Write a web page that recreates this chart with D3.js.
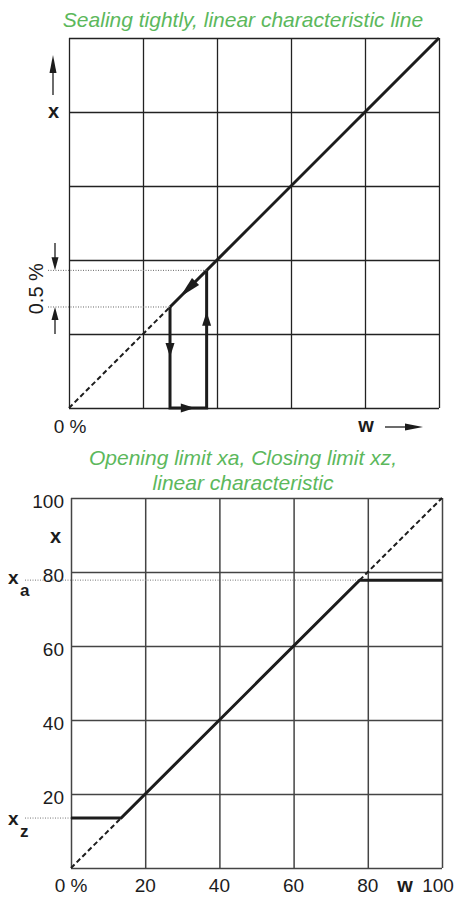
<!DOCTYPE html>
<html><head><meta charset="utf-8">
<script src="https://cdn.jsdelivr.net/npm/d3@7"></script>
<style>
html,body{margin:0;padding:0;background:#fff;}
svg{display:block;font-family:"Liberation Sans",Arial,Helvetica,sans-serif;}
</style></head>
<body>
<svg id="chart" width="458" height="897"></svg>
<script>
// ---------- data ----------
const gridTicks = [0, 20, 40, 60, 80, 100];
const topTitle = "Sealing tightly, linear characteristic line";
const bottomTitle = ["Opening limit xa, Closing limit xz,", "linear characteristic"];
// top chart: hysteresis (tight-closing) characteristic
const topLow = 27.3;   // point where line leaves diagonal downward
const topHigh = 37.2;  // point where line rejoins diagonal
const topDashed = [[0, 0], [topLow, topLow]];
const topSolid = [[topLow, topLow], [100, 100]];
const topLoop = [[topLow, topLow], [topLow, 0], [topHigh, 0], [topHigh, topHigh]];
const topLoopArrows = [ // tip positions [w, x] and direction angle (deg, screen)
  {p: [30, 30], ang: 135},
  {p: [topLow, 13.8], ang: 90},
  {p: [34, 0], ang: 0},
  {p: [topHigh, 26], ang: -90}
];
const bottomTickLabels = ["0 %", "20", "40", "60", "80", "100"];
const yTickLabels = ["20", "40", "60", "80", "100"];
const yTickValues = [20, 40, 60, 80, 100];
// bottom chart: opening / closing limit
const xz = 13.5, xa = 77.8;
const bottomSolid = [[0, xz], [xz, xz], [xa, xa], [100, xa]];
const bottomDashed = [[[0, 0], [xz, xz]], [[xa, xa], [100, 100]]];

// ---------- setup ----------
const svg = d3.select("#chart");
const green = "#5cb85c";
const ink = "#1c1c1c";

const x1 = d3.scaleLinear([0, 100], [69, 439]);
const y1 = d3.scaleLinear([0, 100], [408, 38]);
const x2 = d3.scaleLinear([0, 100], [71, 442]);
const y2 = d3.scaleLinear([0, 100], [868, 498]);

function arrowHead(g, px, py, angDeg, len, hw, color) {
  const a = angDeg * Math.PI / 180;
  const dx = Math.cos(a), dy = Math.sin(a);
  const bx = px - dx * len, by = py - dy * len;
  const nx = -dy, ny = dx;
  g.append("path")
    .attr("d", `M${px},${py}L${bx + nx * hw},${by + ny * hw}L${bx - nx * hw},${by - ny * hw}Z`)
    .attr("fill", color || ink);
}

function grid(g, xs, ys, color, w) {
  const gx = g.append("g").attr("transform", `translate(0,${ys(0)})`)
    .call(d3.axisBottom(xs).tickValues(gridTicks).tickSize(ys(100) - ys(0)).tickFormat(""));
  const gy = g.append("g").attr("transform", `translate(${xs(0)},0)`)
    .call(d3.axisLeft(ys).tickValues(gridTicks).tickSize(xs(0) - xs(100)).tickFormat(""));
  [gx, gy].forEach(a => {
    a.select(".domain").remove();
    a.selectAll("line").attr("stroke", color).attr("stroke-width", w);
  });
}

// ---------- top chart ----------
svg.append("text").attr("x", 243).attr("y", 27).attr("text-anchor", "middle")
  .attr("font-size", 21).attr("font-style", "italic").attr("fill", green).text(topTitle);

const gt = svg.append("g");
grid(gt, x1, y1, "#222", 1.3);

const line1 = d3.line().x(d => x1(d[0])).y(d => y1(d[1]));
gt.append("path").attr("d", line1(topDashed)).attr("fill", "none")
  .attr("stroke", ink).attr("stroke-width", 2).attr("stroke-dasharray", "5,3");
gt.append("path").attr("d", line1(topSolid)).attr("fill", "none")
  .attr("stroke", ink).attr("stroke-width", 3);
gt.append("path").attr("d", line1(topLoop)).attr("fill", "none")
  .attr("stroke", ink).attr("stroke-width", 3).attr("stroke-linejoin", "miter");

// dotted reference lines for 0.5 %
[topLow, topHigh].forEach(v => {
  gt.append("line").attr("x1", 48).attr("x2", x1(v)).attr("y1", y1(v)).attr("y2", y1(v))
    .attr("stroke", "#666").attr("stroke-width", 1).attr("stroke-dasharray", "1,1.5");
});
topLoopArrows.forEach(a => {
  const diag = a.ang === 135;
  arrowHead(gt, x1(a.p[0]), y1(a.p[1]), a.ang, diag ? 22 : 14, diag ? 5 : 4.5);
});

// 0.5 % dimension arrows
gt.append("line").attr("x1", 55).attr("x2", 55).attr("y1", 243).attr("y2", y1(topHigh) - 8)
  .attr("stroke", ink).attr("stroke-width", 1.3);
arrowHead(gt, 55, y1(topHigh), 90, 13, 3.5);
gt.append("line").attr("x1", 55).attr("x2", 55).attr("y1", 334).attr("y2", y1(topLow) + 8)
  .attr("stroke", ink).attr("stroke-width", 1.3);
arrowHead(gt, 55, y1(topLow), -90, 13, 3.5);
gt.append("text").attr("transform", `translate(43,${(y1(topLow) + y1(topHigh)) / 2}) rotate(-90)`)
  .attr("text-anchor", "middle").attr("font-size", 20).attr("fill", ink).text("0.5 %");

// axis labels
gt.append("text").attr("x", 53.5).attr("y", 118).attr("text-anchor", "middle")
  .attr("font-size", 20).attr("font-weight", "bold").attr("fill", ink).text("x");
gt.append("line").attr("x1", 53).attr("x2", 53).attr("y1", 95).attr("y2", 65)
  .attr("stroke", ink).attr("stroke-width", 1.3);
arrowHead(gt, 53, 55, -90, 18, 3.5);
gt.append("text").attr("x", x1(0) + 1).attr("y", 433).attr("text-anchor", "middle")
  .attr("font-size", 19).attr("fill", ink).text("0 %");
gt.append("text").attr("x", 366).attr("y", 432).attr("text-anchor", "middle")
  .attr("font-size", 20).attr("font-weight", "bold").attr("fill", ink).text("w");
gt.append("line").attr("x1", 385).attr("x2", 412).attr("y1", 427).attr("y2", 427)
  .attr("stroke", ink).attr("stroke-width", 1.3);
arrowHead(gt, 423, 427, 0, 18, 3.5);

// ---------- bottom chart ----------
bottomTitle.forEach((t, i) => {
  svg.append("text").attr("x", 243).attr("y", 465 + i * 24.5).attr("text-anchor", "middle")
    .attr("font-size", 21).attr("font-style", "italic").attr("fill", green).text(t);
});

const gb = svg.append("g");
grid(gb, x2, y2, "#444", 1.5);

// dotted limit lines
gb.append("line").attr("x1", 25).attr("x2", x2(xa)).attr("y1", y2(xa)).attr("y2", y2(xa))
  .attr("stroke", "#777").attr("stroke-width", 1).attr("stroke-dasharray", "1,1.5");
gb.append("line").attr("x1", 25).attr("x2", x2(0)).attr("y1", y2(xz)).attr("y2", y2(xz))
  .attr("stroke", "#777").attr("stroke-width", 1).attr("stroke-dasharray", "1,1.5");

const line2 = d3.line().x(d => x2(d[0])).y(d => y2(d[1]));
bottomDashed.forEach(seg => {
  gb.append("path").attr("d", line2(seg)).attr("fill", "none")
    .attr("stroke", ink).attr("stroke-width", 2).attr("stroke-dasharray", "5,3");
});
gb.append("path").attr("d", line2(bottomSolid)).attr("fill", "none")
  .attr("stroke", ink).attr("stroke-width", 3);

// y tick labels
yTickValues.forEach((v, i) => {
  gb.append("text").attr("x", 64).attr("y", y2(v) + 9.5).attr("text-anchor", "end")
    .attr("font-size", 19).attr("fill", ink).text(yTickLabels[i]);
});
// x tick labels
gridTicks.forEach((v, i) => {
  let xx = x2(v);
  if (v === 100) xx -= 4;
  gb.append("text").attr("x", xx).attr("y", 892).attr("text-anchor", "middle")
    .attr("font-size", 19).attr("fill", ink).text(bottomTickLabels[i]);
});
gb.append("text").attr("x", 405).attr("y", 892).attr("text-anchor", "middle")
  .attr("font-size", 20).attr("font-weight", "bold").attr("fill", ink).text("w");
gb.append("text").attr("x", 55.5).attr("y", 543).attr("text-anchor", "middle")
  .attr("font-size", 20).attr("font-weight", "bold").attr("fill", ink).text("x");

// x_a and x_z labels
function subLabel(sub, yb, ysub) {
  const t = gb.append("text").attr("x", 8).attr("y", yb).attr("font-size", 19)
    .attr("font-weight", "bold").attr("fill", ink);
  t.append("tspan").text("x");
  t.append("tspan").attr("x", 20).attr("y", ysub).attr("font-size", 17).text(sub);
}
subLabel("a", y2(xa) + 4, y2(xa) + 16);
subLabel("z", y2(xz) + 7, y2(xz) + 19);
</script>
</body></html>
